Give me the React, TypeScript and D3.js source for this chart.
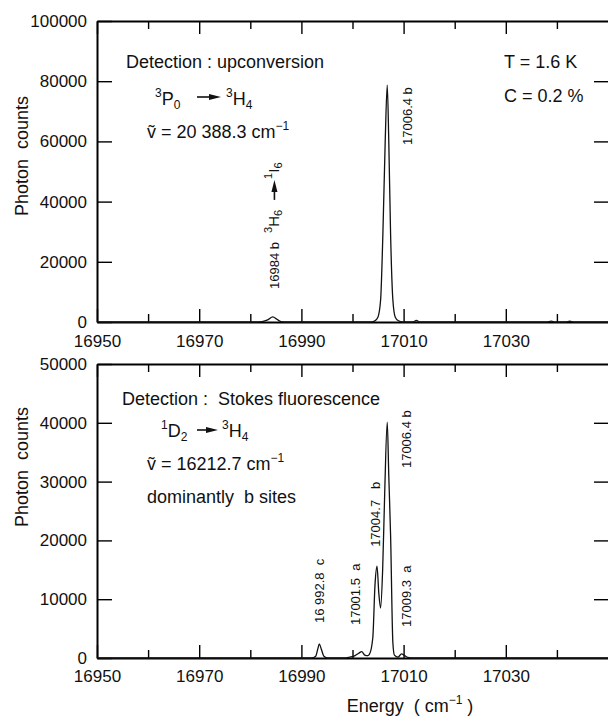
import React, { useEffect, useRef } from 'react';
import * as d3 from 'd3';

// axis ticks
const energyMajorTicks = [16950, 16970, 16990, 17010, 17030];
const energyMinorTicks = [16960, 16980, 17000, 17020, 17040];
const upconvTicks = [0, 20000, 40000, 60000, 80000, 100000];
const stokesTicks = [0, 10000, 20000, 30000, 40000, 50000];

// upper spectrum: detection upconversion
const upconvEnergy = [16950, 16981, 16982.3, 16983.4, 16984.4, 16985.2, 16986, 16987, 17003.5, 17004.3, 17004.97, 17005.5, 17005.95, 17006.4, 17006.8, 17007.1, 17007.45, 17007.9, 17008.37, 17009, 17009.8, 17011.8, 17012.5, 17013.2, 17038, 17038.9, 17039.6, 17041.8, 17042.5, 17043.3, 17050];
const upconvCounts = [0, 0, 150, 700, 1700, 900, 150, 0, 0, 300, 1600, 7300, 29500, 60000, 78700, 60000, 29500, 7300, 1600, 400, 0, 0, 500, 0, 0, 300, 0, 0, 250, 0, 0];

// lower spectrum: detection Stokes fluorescence
const stokesEnergy = [16950, 16992, 16992.8, 16993.2, 16993.5, 16993.9, 16994.4, 16995.2, 16998, 16999.5, 17000.5, 17001.2, 17001.8, 17002.4, 17003, 17003.3, 17003.97, 17004.4, 17004.8, 17005.15, 17005.5, 17005.9, 17006.3, 17006.8, 17007.1, 17007.45, 17007.9, 17008.2, 17008.9, 17009.6, 17010.2, 17010.8, 17012, 17050];
const stokesCounts = [0, 0, 300, 1500, 2400, 1500, 300, 0, 0, 150, 400, 800, 1100, 500, 400, 600, 3400, 12400, 15600, 11000, 8500, 15000, 28000, 40100, 31000, 21000, 2600, 500, 150, 700, 400, 100, 0, 0];

// vertical peak labels: where the text starts (energy, counts)
const stokesLabelText = ['16 992.8  c', '17001.5  a', '17004.7   b', '17006.4 b', '17009.3  a'];
const stokesLabelEnergy = [16994.5, 17001.4, 17005.3, 17011.4, 17011.4];
const stokesLabelCounts = [5950, 5600, 18900, 32300, 5270];

const FONT = "'Liberation Sans', Arial, sans-serif";

const x = d3.scaleLinear().domain([16950, 17050]).range([97, 608]);
const yUp = d3.scaleLinear().domain([0, 100000]).range([322, 21]);
const ySt = d3.scaleLinear().domain([0, 50000]).range([658, 364]);

const drawFrame = (node: SVGGElement, y: d3.ScaleLinear<number, number>, yTicks: number[], pad: number) => {
    const g = d3.select(node);
    g.selectAll('*').remove();
    const [y0, y1] = y.range();

    const style = (s: any) => {
        s.select('.domain').attr('stroke-width', 2);
        s.selectAll('.tick line').attr('stroke-width', 1.4);
        s.selectAll('text').attr('font-family', FONT).attr('font-size', 17).attr('fill', '#111');
    };

    g.append('g')
        .attr('transform', `translate(0,${y0})`)
        .call(d3.axisBottom(x).tickValues(energyMajorTicks).tickSize(-13).tickSizeOuter(0).tickPadding(pad).tickFormat(d3.format('d')))
        .call(style);
    g.append('g')
        .attr('transform', `translate(0,${y0})`)
        .call(d3.axisBottom(x).tickValues(energyMinorTicks).tickSize(-8).tickFormat(() => ''))
        .call(s => s.select('.domain').remove())
        .call(style);
    g.append('g')
        .attr('transform', `translate(0,${y1})`)
        .call(d3.axisTop(x).tickValues(energyMajorTicks).tickSize(-13).tickSizeOuter(0).tickFormat(() => ''))
        .call(style);
    g.append('g')
        .attr('transform', `translate(0,${y1})`)
        .call(d3.axisTop(x).tickValues(energyMinorTicks).tickSize(-8).tickFormat(() => ''))
        .call(s => s.select('.domain').remove())
        .call(style);
    g.append('g')
        .attr('transform', `translate(${x.range()[0]},0)`)
        .call(d3.axisLeft(y).tickValues(yTicks).tickSize(-15).tickSizeOuter(0).tickPadding(10).tickFormat(d3.format('d')))
        .call(style);
    g.append('g')
        .attr('transform', `translate(${x.range()[1]},0)`)
        .call(d3.axisRight(y).tickValues(yTicks.slice(1, -1)).tickSize(-14).tickFormat(() => ''))
        .call(s => s.select('.domain').remove())
        .call(style);
};

const Arrow = ({ x1, x2, y }: { x1: number; x2: number; y: number }) => (
    <g>
        <line x1={x1} x2={x2 - 8} y1={y} y2={y} stroke="#111" strokeWidth={1.6} />
        <path d={`M${x2 - 12},${y - 3} L${x2},${y} L${x2 - 12},${y + 3} Z`} fill="#111" />
    </g>
);

const Sup = ({ children }: { children: string }) => (
    <tspan fontSize={12} dy={-8}>{children}</tspan>
);

const App = () => {
    const upRef = useRef<SVGGElement>(null);
    const stRef = useRef<SVGGElement>(null);

    useEffect(() => {
        if (upRef.current) drawFrame(upRef.current, yUp, upconvTicks, 13);
        if (stRef.current) drawFrame(stRef.current, ySt, stokesTicks, 12);
    }, []);

    const lineUp = d3.line<number>()
        .x((d, i) => x(upconvEnergy[i]))
        .y(d => yUp(d))
        .curve(d3.curveMonotoneX);
    const lineSt = d3.line<number>()
        .x((d, i) => x(stokesEnergy[i]))
        .y(d => ySt(d))
        .curve(d3.curveMonotoneX);

    const upLabelX = x(16985.7);
    const upLabelY = yUp(11000);

    return (
        <svg width={608} height={717} style={{ position: 'absolute', left: 0, top: 0, background: '#fff' }}
            fontFamily={FONT} fill="#111">
            <rect width={608} height={717} fill="#fff" />
            <g ref={upRef} />
            <g ref={stRef} />

            <path d={lineUp(upconvCounts) || ''} fill="none" stroke="#111" strokeWidth={1.3} />
            <path d={lineSt(stokesCounts) || ''} fill="none" stroke="#111" strokeWidth={1.3} />

            {/* y axis titles */}
            <text transform="translate(28,156) rotate(-90)" textAnchor="middle" fontSize={18} style={{ whiteSpace: 'pre' }}>Photon  counts</text>
            <text transform="translate(28,467) rotate(-90)" textAnchor="middle" fontSize={18} style={{ whiteSpace: 'pre' }}>Photon  counts</text>
            <text x={410} y={712} textAnchor="middle" fontSize={18} style={{ whiteSpace: 'pre' }}>
                Energy  ( cm<Sup>−1</Sup><tspan dy={8}> )</tspan>
            </text>

            {/* upper panel annotations */}
            <text x={126} y={68} fontSize={18}>Detection : upconversion</text>
            <text x={155} y={105} fontSize={18}>
                <Sup>3</Sup><tspan dy={8}>P</tspan><tspan fontSize={12} dy={4}>0</tspan>
            </text>
            <Arrow x1={197} x2={221} y={97} />
            <text x={226} y={105} fontSize={18}>
                <Sup>3</Sup><tspan dy={8}>H</tspan><tspan fontSize={12} dy={4}>4</tspan>
            </text>
            <text x={147} y={138} fontSize={18}>
                ṽ = 20 388.3 cm<Sup>−1</Sup>
            </text>
            <text x={504} y={68} fontSize={18}>T = 1.6 K</text>
            <text x={504} y={102} fontSize={18}>C = 0.2 %</text>

            <g transform={`translate(${upLabelX},${upLabelY}) rotate(-90)`}>
                <text x={0} y={0} fontSize={13}>16984 b</text>
                <text x={56} y={0} fontSize={15}>
                    <tspan fontSize={11} dy={-7}>3</tspan><tspan dy={7}>H</tspan><tspan fontSize={11} dy={3}>6</tspan>
                </text>
                <Arrow x1={89} x2={109} y={-5} />
                <text x={110} y={0} fontSize={15}>
                    <tspan fontSize={11} dy={-7}>1</tspan><tspan dy={7}>I</tspan><tspan fontSize={11} dy={3}>6</tspan>
                </text>
            </g>
            <text transform={`translate(${x(17011.6)},${yUp(58800)}) rotate(-90)`} fontSize={13} style={{ whiteSpace: 'pre' }}>17006.4 b</text>

            {/* lower panel annotations */}
            <text x={122} y={405} fontSize={18} style={{ whiteSpace: 'pre' }}>Detection :  Stokes fluorescence</text>
            <text x={161} y={437} fontSize={18}>
                <Sup>1</Sup><tspan dy={8}>D</tspan><tspan fontSize={12} dy={4}>2</tspan>
            </text>
            <Arrow x1={197} x2={218} y={430} />
            <text x={222} y={437} fontSize={18}>
                <Sup>3</Sup><tspan dy={8}>H</tspan><tspan fontSize={12} dy={4}>4</tspan>
            </text>
            <text x={147} y={470} fontSize={18}>
                ṽ = 16212.7 cm<Sup>−1</Sup>
            </text>
            <text x={147} y={503} fontSize={18} style={{ whiteSpace: 'pre' }}>dominantly  b sites</text>

            {stokesLabelText.map((t, i) => (
                <text key={t} transform={`translate(${x(stokesLabelEnergy[i])},${ySt(stokesLabelCounts[i])}) rotate(-90)`}
                    fontSize={13} style={{ whiteSpace: 'pre' }}>{t}</text>
            ))}
        </svg>
    );
};

export default App;
